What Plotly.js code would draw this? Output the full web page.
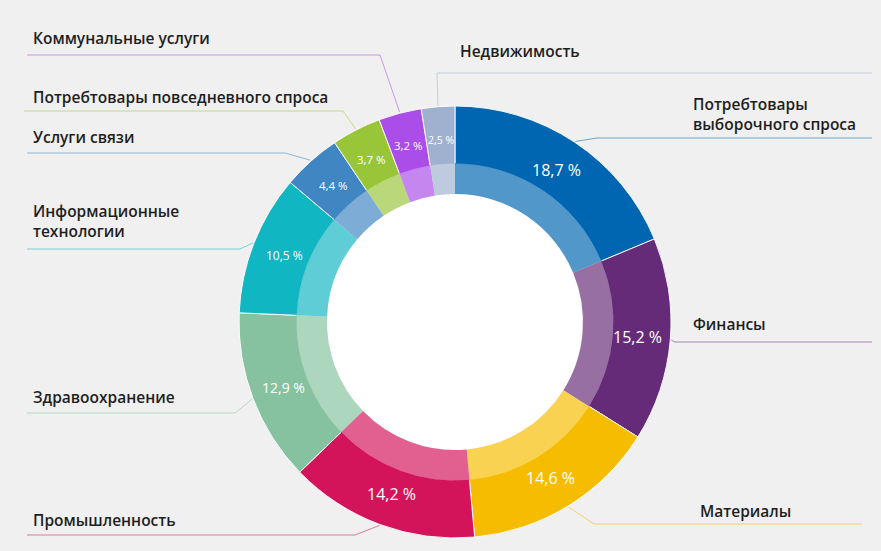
<!DOCTYPE html>
<html><head><meta charset="utf-8">
<script src="https://cdn.plot.ly/plotly-3.0.1.min.js"></script>
<style>html,body{margin:0;padding:0;background:#f0f0f0}#chart{width:881px;height:551px}</style>
</head><body><div id="chart"></div>
<script>
// ---- data ----
const categories = ["Потребтовары выборочного спроса","Финансы","Материалы","Промышленность","Здравоохранение","Информационные технологии","Услуги связи","Потребтовары повседневного спроса","Коммунальные услуги","Недвижимость"];
const shares = [18.7, 15.2, 14.6, 14.2, 12.9, 10.5, 4.4, 3.7, 3.2, 2.5];
const labelTexts = ["Потребтовары<br>выборочного спроса","Финансы","Материалы","Промышленность","Здравоохранение","Информационные<br>технологии","Услуги связи","Потребтовары повседневного спроса","Коммунальные услуги","Недвижимость"];

// ---- style / layout ----
const colors = ['#0066b1','#652b78','#f6bc00','#d4145a','#86c2a0','#11b6c3','#3f86c3','#99c639','#aa4de9','#9fb1cf'];
const valueSizes = [16,16,16,16,14,12,11.5,11.5,11.5,10.5];
const W = 881, H = 551, CX = 455, CY = 322, R_OUT = 216, R_MID = 158, R_IN = 128, R_TXT = 183;
// per label: text x, text y (center), line y, elbow x, line end x
const labelPos = [
  {x:691, y:114, ly:138, ex:597, end:872},
  {x:691, y:324, ly:342, ex:675, end:872},
  {x:698, y:511, ly:524, ex:594, end:862},
  {x:31,  y:520, ly:535, ex:355, end:27},
  {x:31,  y:397, ly:413, ex:235, end:27},
  {x:31,  y:221, ly:249, ex:240, end:27},
  {x:31,  y:137, ly:153, ex:285, end:27},
  {x:31,  y:97,  ly:111, ex:343, end:24},
  {x:31,  y:38,  ly:55,  ex:380, end:27},
  {x:458, y:51,  ly:73,  ex:437, end:872}
];

function hexToRgb(h){return [parseInt(h.slice(1,3),16),parseInt(h.slice(3,5),16),parseInt(h.slice(5,7),16)];}
function rgba(h,a){const c=hexToRgb(h);return `rgba(${c[0]},${c[1]},${c[2]},${a})`;}
const px = x => x / W;
const py = y => 1 - y / H;

const total = shares.reduce((a,b)=>a+b,0);
let cum = 0;
const midAngles = shares.map(v => { const m = (cum + v/2) / total * 2*Math.PI; cum += v; return m; });

const outer = {
  type:'pie', values: shares, labels: categories, sort:false, direction:'clockwise', rotation:0,
  hole: R_MID / R_OUT, textinfo:'none', hoverinfo:'label+value', showlegend:false,
  marker:{colors: colors, line:{color:'rgba(255,255,255,0.9)', width:1}},
  domain:{x:[px(CX-R_OUT), px(CX+R_OUT)], y:[py(CY+R_OUT), py(CY-R_OUT)]}
};
const RB = R_MID + 1;
const inner = {
  type:'pie', values: shares, labels: categories, sort:false, direction:'clockwise', rotation:0,
  hole: R_IN / RB, textinfo:'none', hoverinfo:'skip', showlegend:false,
  marker:{colors: colors.map(c => rgba(c,0.68)), line:{width:0}},
  domain:{x:[px(CX-RB), px(CX+RB)], y:[py(CY+RB), py(CY-RB)]}
};

const annotations = [];
// white backing disc so the light band and the centre sit on white
const shapes = [{
  type:'circle', xref:'paper', yref:'paper', layer:'below',
  x0:px(CX-RB), x1:px(CX+RB), y0:py(CY+RB), y1:py(CY-RB),
  fillcolor:'#ffffff', line:{width:0}
}];

shares.forEach((v,i) => {
  const a = midAngles[i];
  annotations.push({
    xref:'paper', yref:'paper', showarrow:false,
    x: px(CX + R_TXT*Math.sin(a)), y: py(CY - R_TXT*Math.cos(a)),
    xanchor:'center', yanchor:'middle',
    text: v.toFixed(1).replace('.', ',') + ' %',
    font:{family:'Open Sans', size:valueSizes[i], color:'#ffffff'}
  });
  const L = labelPos[i];
  annotations.push({
    xref:'paper', yref:'paper', showarrow:false,
    x: px(L.x), y: py(L.y), xanchor:'left', yanchor:'middle', align:'left',
    text: labelTexts[i],
    font:{family:'Open Sans', size:15.5, color:'#1e1e1e', weight:600}
  });
  const sx = CX + (R_OUT+1)*Math.sin(a), sy = CY - (R_OUT+1)*Math.cos(a);
  shapes.push({
    type:'path', xref:'paper', yref:'paper', layer:'below',
    path:`M ${px(sx)},${py(sy)} L ${px(L.ex)},${py(L.ly)} L ${px(L.end)},${py(L.ly)}`,
    line:{color: rgba(colors[i],0.55), width:1}
  });
});

const layout = {
  width: W, height: H, margin:{l:0,r:0,t:0,b:0},
  paper_bgcolor:'#f0f0f0', plot_bgcolor:'#f0f0f0',
  showlegend:false, annotations, shapes
};
Plotly.newPlot('chart', [outer, inner], layout, {displayModeBar:false, staticPlot:true});
</script></body></html>
